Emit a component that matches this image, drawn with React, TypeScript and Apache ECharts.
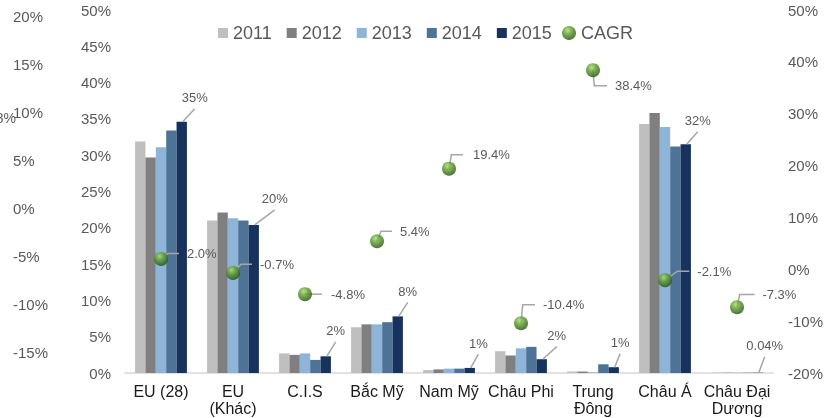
import React, { useEffect, useRef } from "react";
import * as echarts from "echarts";

const categories = ["EU (28)", "EU\n(Khác)", "C.I.S", "Bắc Mỹ", "Nam Mỹ", "Châu Phi", "Trung\nĐông", "Châu Á", "Châu Đại\nDương"];
const years = ["2011", "2012", "2013", "2014", "2015"];
const y2011 = [31.9, 21.0, 2.7, 6.3, 0.4, 3.0, 0.2, 34.3, 0.04];
const y2012 = [29.7, 22.1, 2.5, 6.7, 0.5, 2.4, 0.2, 35.8, 0.04];
const y2013 = [31.1, 21.3, 2.7, 6.7, 0.6, 3.4, 0.1, 33.9, 0.04];
const y2014 = [33.4, 21.0, 1.8, 7.0, 0.6, 3.6, 1.2, 31.2, 0.04];
const y2015 = [34.6, 20.4, 2.3, 7.8, 0.7, 1.9, 0.8, 31.5, 0.04];
const cagr = [2.0, -0.7, -4.8, 5.4, 19.4, -10.4, 38.4, -2.1, -7.3];
const labels2015 = ["35%", "20%", "2%", "8%", "1%", "2%", "1%", "32%", "0.04%"];

// axis tick settings
const leftTicks = { min: 0, max: 50, interval: 5 };
const rightTicks = { min: -20, max: 50, interval: 10 };
const ghostTicks = { min: -15, max: 20, interval: 5 };

// label layout (leader line offsets in px) — styling, not data
const barLabelOffsets = [[13, -13], [21, -15], [10, -14.5], [10, -14], [8.6, -13.7], [15, -12.6], [6.3, -13.3], [12, -12.6], [7, -16]];
const cagrLeader = [
  [7, -5.5, 18, 26],
  [8, -8.7, 19, 27],
  [6, 0, 17, 26],
  [4, -10, 15, 23],
  [2.4, -14, 14, 24],
  [1.7, -18.4, 14, 22],
  [1.3, 15.7, 14, 22],
  [12.3, -9, 24.3, 32.3],
  [2.7, -12.7, 17.7, 25.4],
];

const colors = ["#BFBFBF", "#7F7F7F", "#8EB4D8", "#4D7497", "#17325C"];
const FONT = '"Liberation Sans", Arial, sans-serif';
const CAT_GAP = 0.28;

export default function App() {
  const ref = useRef<HTMLDivElement>(null);
  useEffect(() => {
    if (!ref.current) return;
    const chart = echarts.init(ref.current, undefined, { renderer: "svg" });
    const yearData = [y2011, y2012, y2013, y2014, y2015];
    const sphere = new echarts.graphic.RadialGradient(0.4, 0.3, 0.7, [
      { offset: 0, color: "#A9DA70" },
      { offset: 0.4, color: "#5E9F2C" },
      { offset: 1, color: "#24500E" },
    ]);
    const option: any = {
      animation: false,
      textStyle: { fontFamily: FONT },
      legend: [
        {
          data: years,
          icon: "rect",
          itemWidth: 10,
          itemHeight: 10,
          itemGap: 15,
          left: 213,
          top: 19,
          selectedMode: false,
          textStyle: { fontSize: 18, color: "#595959", fontFamily: FONT },
        },
        {
          data: [{ name: "CAGR", icon: "circle" }],
          itemWidth: 14,
          itemHeight: 14,
          left: 557,
          top: 19,
          selectedMode: false,
          textStyle: { fontSize: 18, color: "#595959", fontFamily: FONT },
        },
      ],
      grid: [
        { left: 125, right: 63, top: 10, bottom: 45 },
        { left: 60, width: 10, top: 16, height: 336 },
      ],
      xAxis: [
        {
          type: "category",
          data: categories,
          gridIndex: 0,
          axisLine: { lineStyle: { color: "#D9D9D9", width: 1.5 } },
          axisTick: { show: false },
          axisLabel: { color: "#1A1A1A", fontSize: 16, lineHeight: 17, margin: 10, interval: 0, fontFamily: FONT },
        },
        { type: "value", gridIndex: 1, show: false },
      ],
      yAxis: [
        {
          type: "value",
          gridIndex: 0,
          position: "left",
          ...leftTicks,
          axisLine: { show: false },
          axisTick: { show: false },
          splitLine: { show: false },
          axisLabel: { formatter: "{value}%", color: "#595959", fontSize: 15, margin: 14, fontFamily: FONT },
        },
        {
          type: "value",
          gridIndex: 0,
          position: "right",
          ...rightTicks,
          axisLine: { show: false },
          axisTick: { show: false },
          splitLine: { show: false },
          axisLabel: { formatter: "{value}%", color: "#595959", fontSize: 15, margin: 15, fontFamily: FONT },
        },
        {
          type: "value",
          gridIndex: 1,
          position: "left",
          ...ghostTicks,
          axisLine: { show: false },
          axisTick: { show: false },
          splitLine: { show: false },
          axisLabel: { formatter: "{value}%", color: "#595959", fontSize: 15, margin: 47, align: "left", fontFamily: FONT },
        },
      ],
      graphic: [
        {
          type: "text",
          x: 16,
          y: 118,
          style: { text: "8%", align: "right", verticalAlign: "middle", fill: "#595959", font: `14px ${FONT}` },
        },
      ],
      series: [
        ...years.map((y, k) => ({
          name: y,
          type: "bar",
          xAxisIndex: 0,
          yAxisIndex: 0,
          data: yearData[k],
          barGap: "0%",
          barCategoryGap: `${CAT_GAP * 100}%`,
          itemStyle: { color: colors[k] },
          z: 2,
        })),
        {
          name: "labels2015",
          type: "custom",
          xAxisIndex: 0,
          yAxisIndex: 0,
          z: 3,
          data: y2015.map((v, i) => [i, v]),
          renderItem: (params: any, api: any) => {
            const i = params.dataIndex;
            const band = api.size([1, 0])[0];
            const barW = (band * (1 - CAT_GAP)) / 5;
            const p = api.coord([api.value(0), api.value(1)]);
            const x = p[0] + 2 * barW;
            const y = p[1];
            const [dx, dy] = barLabelOffsets[i];
            return {
              type: "group",
              children: [
                {
                  type: "line",
                  shape: { x1: x + 1, y1: y, x2: x + dx, y2: y + dy },
                  style: { stroke: "#A6A6A6", lineWidth: 1.5 },
                },
                {
                  type: "text",
                  x: x + dx,
                  y: y + dy - 11,
                  style: { text: labels2015[i], align: "center", verticalAlign: "middle", fill: "#595959", font: `13px ${FONT}` },
                },
              ],
            };
          },
        },
        {
          name: "cagrLabels",
          type: "custom",
          xAxisIndex: 0,
          yAxisIndex: 1,
          z: 3,
          data: cagr.map((v, i) => [i, v]),
          renderItem: (params: any, api: any) => {
            const i = params.dataIndex;
            const v = api.value(1);
            const p = api.coord([api.value(0), v]);
            const [tx, ty, ex, lx] = cagrLeader[i];
            return {
              type: "group",
              children: [
                {
                  type: "polyline",
                  shape: { points: [[p[0], p[1]], [p[0] + tx, p[1] + ty], [p[0] + ex, p[1] + ty]] },
                  style: { stroke: "#A6A6A6", lineWidth: 1.5, fill: null },
                },
                {
                  type: "text",
                  x: p[0] + lx,
                  y: p[1] + ty,
                  style: { text: `${v.toFixed(1)}%`, align: "left", verticalAlign: "middle", fill: "#595959", font: `13px ${FONT}` },
                },
              ],
            };
          },
        },
        {
          name: "CAGR",
          type: "scatter",
          xAxisIndex: 0,
          yAxisIndex: 1,
          data: cagr,
          symbol: "circle",
          symbolSize: 14,
          itemStyle: { color: sphere },
          z: 5,
        },
      ],
    };
    chart.setOption(option);
    return () => chart.dispose();
  }, []);
  return <div ref={ref} style={{ position: "fixed", left: 0, top: 0, width: 836, height: 418 }} />;
}
